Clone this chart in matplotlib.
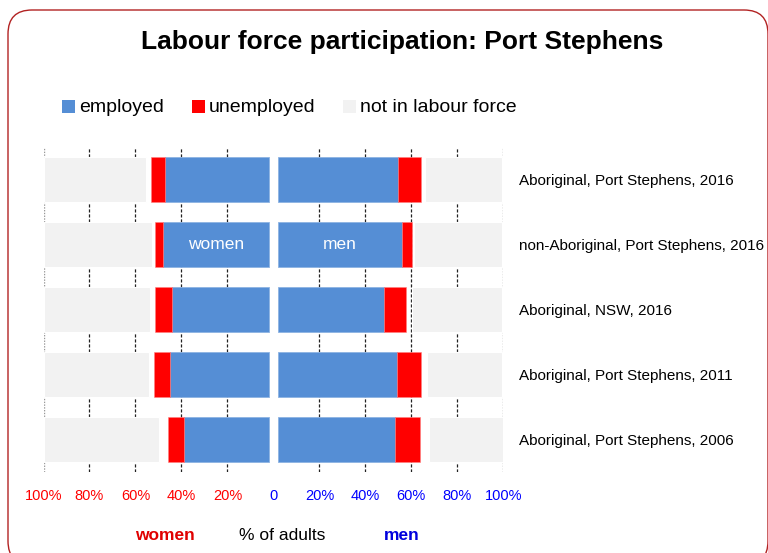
import matplotlib
matplotlib.use("Agg")
import matplotlib.pyplot as plt
from matplotlib.patches import Rectangle, FancyBboxPatch
import numpy as np

plt.rcParams['font.family'] = ['Liberation Sans', 'DejaVu Sans']

categories = ["Aboriginal, Port Stephens, 2016",
              "non-Aboriginal, Port Stephens, 2016",
              "Aboriginal, NSW, 2016",
              "Aboriginal, Port Stephens, 2011",
              "Aboriginal, Port Stephens, 2006"]

women_employed = [45.2, 46.1, 42.2, 42.9, 36.8]
women_unemployed = [6.1, 3.5, 7.1, 7.1, 7.2]
women_not_stated = [1.9, 1.3, 2.5, 2.2, 3.9]
women_not_in_lf = [44.7, 47.0, 46.1, 45.7, 49.9]

men_employed = [52.2, 53.9, 46.1, 51.7, 50.9]
men_unemployed = [10.1, 4.3, 9.6, 10.3, 10.7]
men_not_stated = [1.5, 1.0, 2.5, 2.6, 4.0]
men_not_in_lf = [33.7, 38.3, 39.4, 32.9, 32.7]

centre_gap = 2.0
tick_values = [-100, -80, -60, -40, -20, 0, 20, 40, 60, 80, 100]
tick_labels = ["100%", "80%", "60%", "40%", "20%", "0", "20%", "40%", "60%", "80%", "100%"]

BLUE = "#558ed5"
RED = "#ff0000"
GREY = "#f2f2f2"

W, H = 768, 553
fig = plt.figure(figsize=(W / 100, H / 100), dpi=100)

# rounded frame (right and bottom edges run off the picture)
frame = FancyBboxPatch((0.08, -0.12), 7.60, 5.55,
                       boxstyle="round,pad=0,rounding_size=0.24",
                       transform=fig.dpi_scale_trans, fill=False,
                       edgecolor="#b22222", linewidth=1.0)
fig.add_artist(frame)

ax_l, ax_r, ax_t, ax_b = 43.5, 503.3, 147, 472
ax = fig.add_axes([ax_l / W, 1 - ax_b / H, (ax_r - ax_l) / W, (ax_b - ax_t) / H])
ax.set_xlim(-100, 100)
ax.set_ylim(4.5, -0.5)

y = np.arange(len(categories))
h = 0.68

# women (negative side)
we = np.array(women_employed); wu = np.array(women_unemployed)
ws = np.array(women_not_stated); wn = np.array(women_not_in_lf)
start = -centre_gap
ax.barh(y, -we, left=start, height=h, color=BLUE, edgecolor="#8db3e2", linewidth=0.6, zorder=3)
ax.barh(y, -wu, left=start - we, height=h, color=RED, edgecolor="#ff8080", linewidth=0.4, zorder=3)
ax.barh(y, -wn, left=start - we - wu - ws, height=h, color=GREY, edgecolor="white", linewidth=0.8, zorder=3)

# men (positive side)
me = np.array(men_employed); mu = np.array(men_unemployed)
ms = np.array(men_not_stated); mn = np.array(men_not_in_lf)
start = centre_gap
ax.barh(y, me, left=start, height=h, color=BLUE, edgecolor="#8db3e2", linewidth=0.6, zorder=3)
ax.barh(y, mu, left=start + me, height=h, color=RED, edgecolor="#ff8080", linewidth=0.4, zorder=3)
ax.barh(y, mn, left=start + me + mu + ms, height=h, color=GREY, edgecolor="white", linewidth=0.8, zorder=3)

# gridlines
for v in tick_values:
    if v == 0:
        continue
    if abs(v) == 100:
        ax.axvline(v, color="#999999", linestyle=(0, (1, 1)), linewidth=1.0, zorder=1)
    else:
        ax.axvline(v, color="#222222", linestyle=(0, (2.5, 1.5)), linewidth=0.9, zorder=1)

for s in ax.spines.values():
    s.set_visible(False)

ax.set_xticks(tick_values)
ax.set_xticklabels(tick_labels, fontsize=10.5)
for lab, v in zip(ax.get_xticklabels(), tick_values):
    lab.set_color(RED if v < 0 else "#0000ff")
ax.tick_params(axis="x", length=0, pad=12)

ax.set_yticks(y)
ax.set_yticklabels(categories, fontsize=11)
ax.tick_params(axis="y", left=False, right=False, labelleft=False, labelright=True,
               length=0, pad=11)

# in-bar labels
ax.text(-(centre_gap + we[1] / 2), 1, "women", color="white", fontsize=12.5,
        ha="center", va="center", zorder=4)
ax.text(centre_gap + me[1] / 2, 1, "men", color="white", fontsize=12.5,
        ha="center", va="center", zorder=4)

# title
fig.text(402 / W, 1 - 42 / H, "Labour force participation: Port Stephens",
         fontsize=19, fontweight="bold", ha="center", va="center")

# legend
legend_items = [("employed", BLUE, 62), ("unemployed", RED, 192), ("not in labour force", GREY, 343)]
for label, col, x0 in legend_items:
    fig.add_artist(Rectangle((x0 / W, 1 - 113 / H), 13 / W, 13 / H, transform=fig.transFigure,
                             facecolor=col, edgecolor="none"))
    fig.text((x0 + 17) / W, 1 - 107 / H, label, fontsize=14, ha="left", va="center")

# axis captions
fig.text(165 / W, 1 - 536 / H, "women", color="#e00000", fontsize=12.5, fontweight="bold",
         ha="center", va="center")
fig.text(282 / W, 1 - 536 / H, "% of adults", color="black", fontsize=12.5,
         ha="center", va="center")
fig.text(402 / W, 1 - 536 / H, "men", color="#0000dd", fontsize=12.5, fontweight="bold",
         ha="center", va="center")

fig.savefig("out.png", dpi=100)
